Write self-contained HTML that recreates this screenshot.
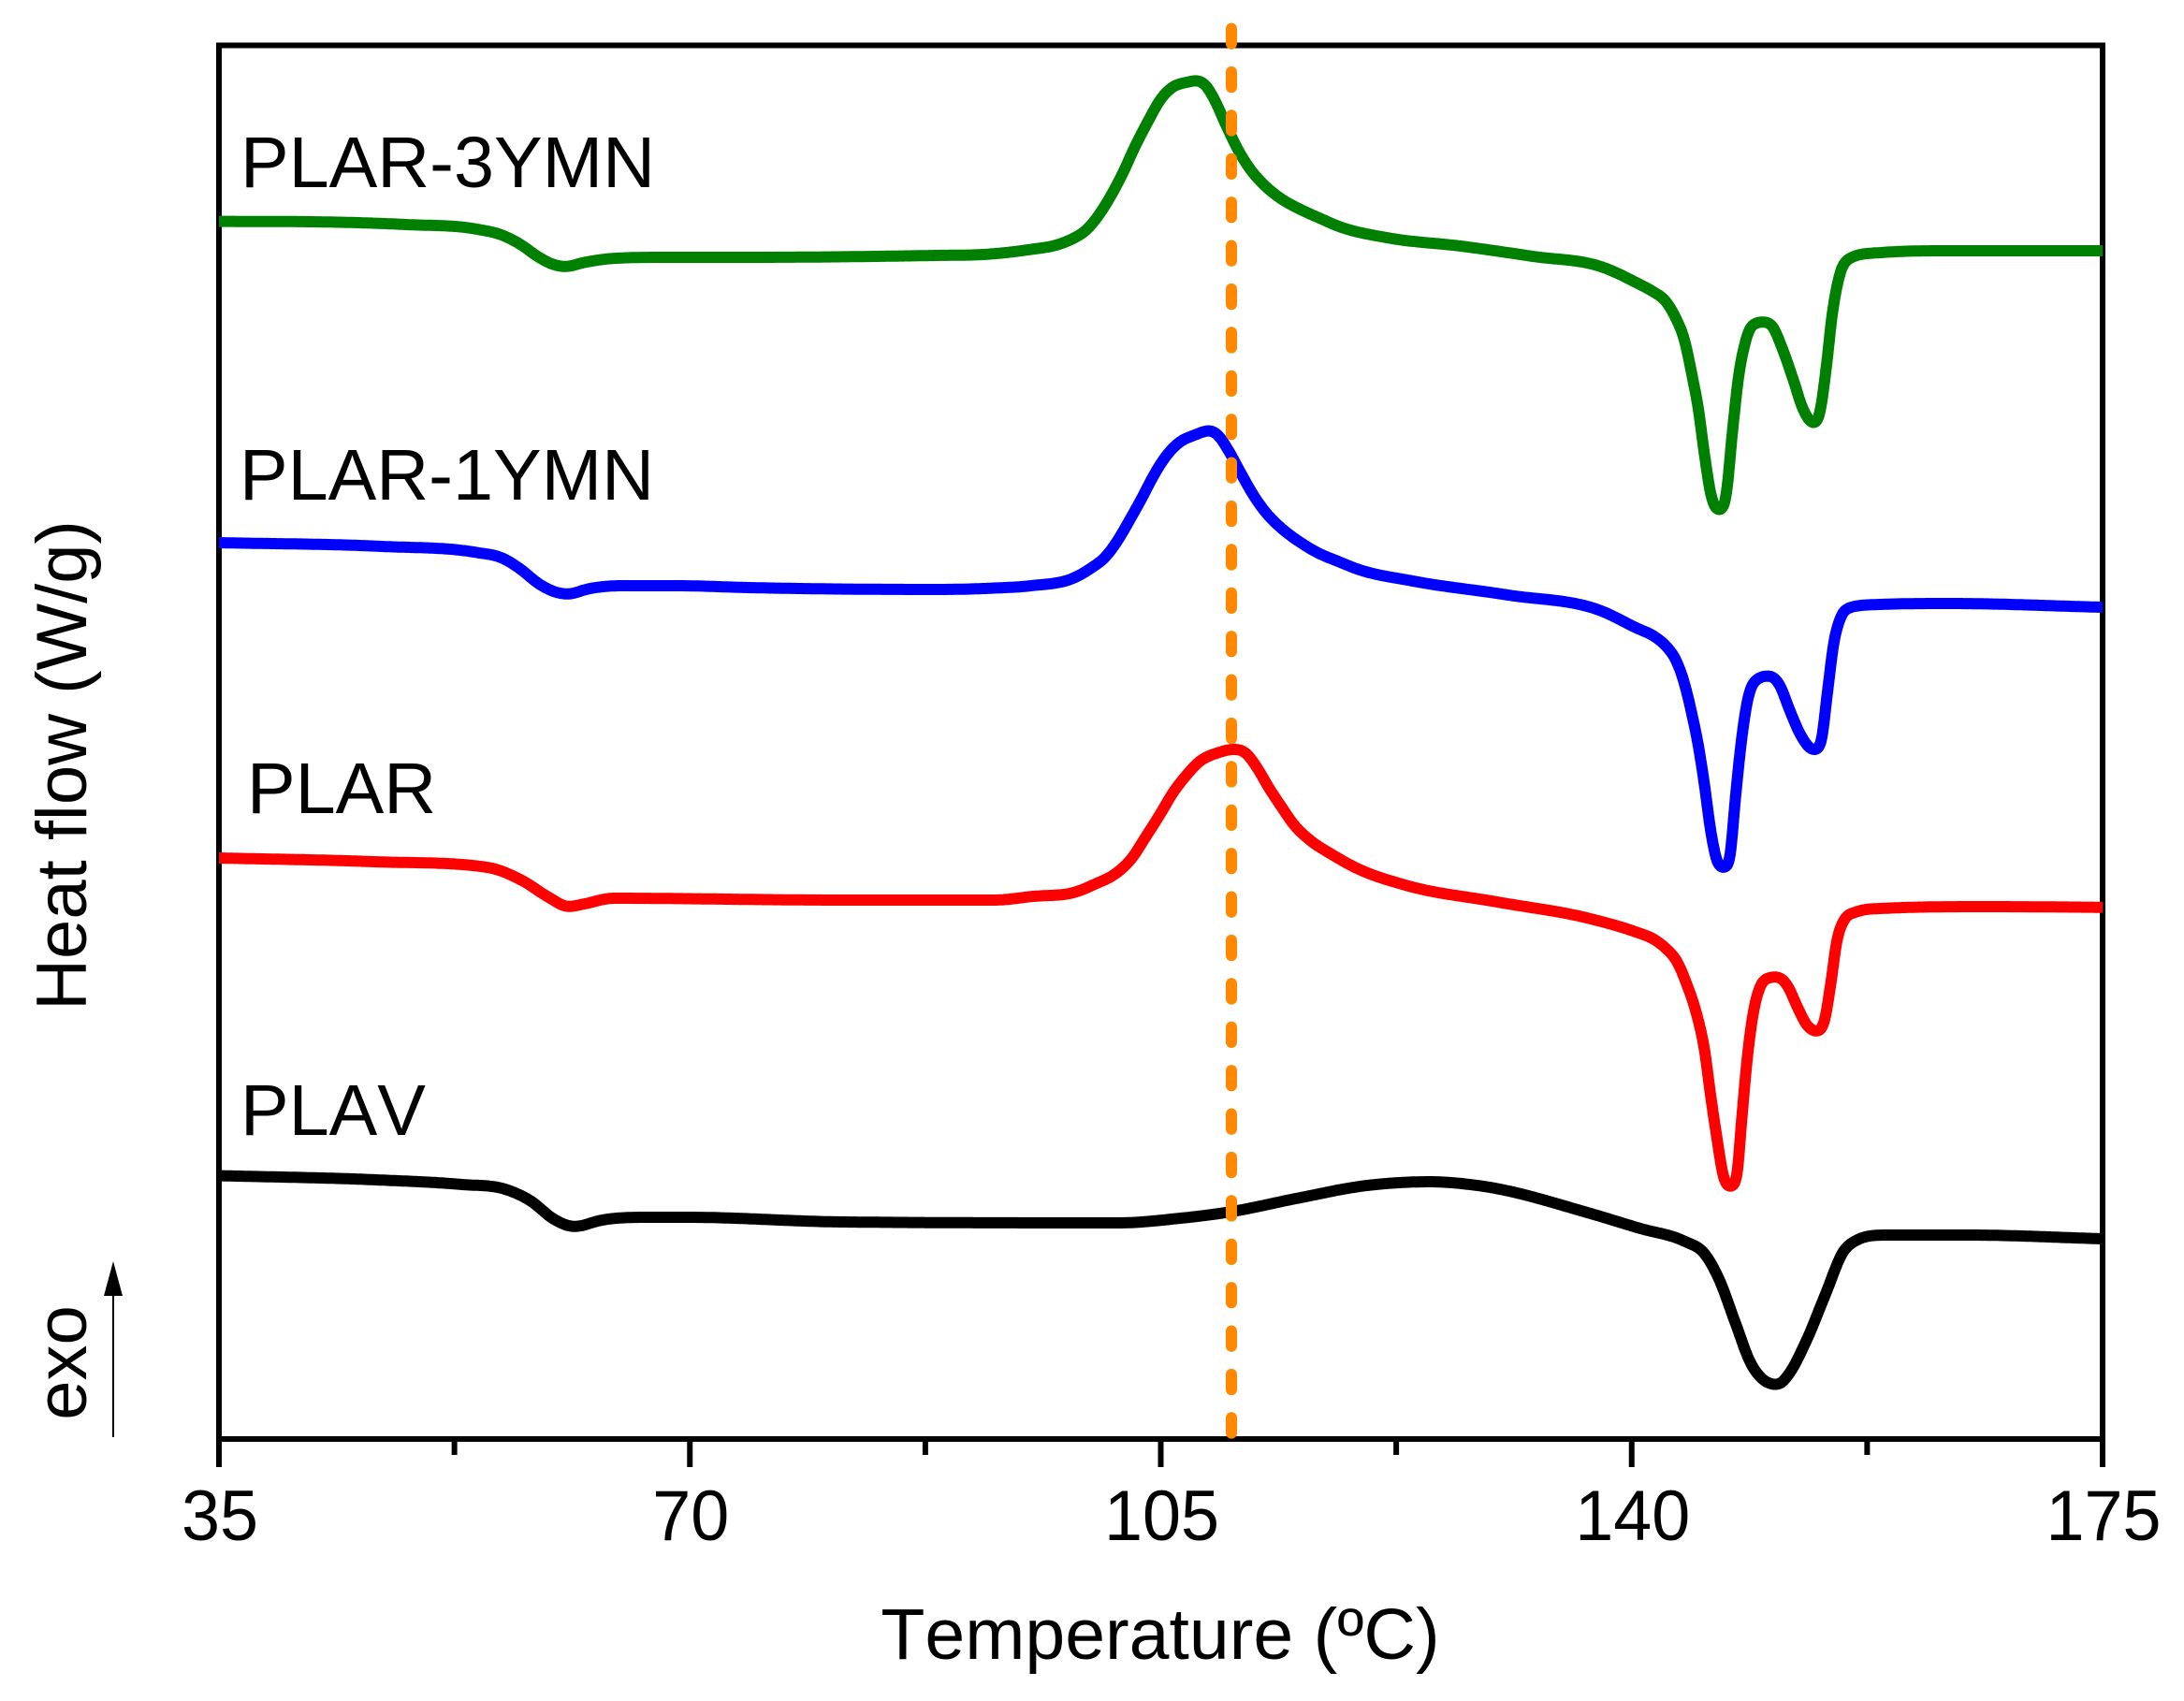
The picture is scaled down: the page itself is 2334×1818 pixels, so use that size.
<!DOCTYPE html>
<html lang="en">
<head>
<meta charset="utf-8">
<title>DSC heat flow curves</title>
<style>
html,body{margin:0;padding:0;background:#fff;}
svg{display:block;}
text{font-family:"Liberation Sans",Arial,sans-serif;fill:#000;}
.nk{font-kerning:none;}
</style>
</head>
<body>
<svg id="chart" xmlns="http://www.w3.org/2000/svg" width="2334" height="1818" viewBox="0 0 2334 1818">
  <rect x="0" y="0" width="2334" height="1818" fill="#fff"/>
  <g id="ticks"></g>
  <g id="tick-labels"></g>
  <rect id="frame" fill="none" stroke="#000" stroke-width="6"/>
  <g id="series"></g>
  <line id="marker" stroke="#ff8800" stroke-width="12" stroke-linecap="round" stroke-dasharray="16.3 30.1"/>
  <text class="nk" x="257" y="200" font-size="77.4">PLAR-3YMN</text>
  <text class="nk" x="256" y="534" font-size="77.4">PLAR-1YMN</text>
  <text class="nk" x="264" y="869" font-size="77.4">PLAR</text>
  <text class="nk" x="257" y="1213" font-size="77.4">PLAV</text>
  <text class="nk" x="1240" y="1773" font-size="77" text-anchor="middle">Temperature (ºC)</text>
  <text transform="translate(92 818) rotate(-90)" font-size="76" text-anchor="middle">Heat flow (W/g)</text>
  <text transform="translate(92 1456.5) rotate(-90)" font-size="76" text-anchor="middle">exo</text>
  <line x1="121" y1="1536" x2="121" y2="1380" stroke="#000" stroke-width="2"/>
  <polygon points="121,1348 111,1385 131,1385" fill="#000"/>
</svg>
<script>
const majorTicks = [35, 70, 105, 140, 175];
const minorTicks = [52.5, 87.5, 122.5, 157.5];
const markerTemperature = 110.25;

const plavTemperature = [35,46.68,53.08,56.28,58.23,59.83,61.43,63.44,66.64,69.84,81.32,101.9,106.15,110.25,115.05,120.33,124.99,128.54,136.95,140.64,143.98,145.37,146.52,147.66,148.92,149.61,150.86,151.56,152.98,154.41,155.8,156.64,158.86,165.05,175];
const plavFlow = [28.15,27.7,27.2,26.7,25.4,23.55,22.7,23.4,23.7,23.7,23.2,23.1,23.55,24.3,25.7,27.1,27.5,27.1,24.1,22.5,21.1,19.9,17,12.6,7.9,6.54,5.8,6.7,10.5,15.5,20.2,21.2,21.8,21.8,21.4];

const plarTemperature = [35,46.54,54.96,57.53,59.62,60.94,62.19,64.28,81.32,92.65,95.5,98.7,100.09,101.69,102.88,103.78,104.96,105.87,106.82,107.95,109.14,110.53,111.34,112.13,113.08,114,114.91,116.09,117.69,119.57,123.18,130,136.95,140.43,141.59,142.52,143.33,144.12,144.81,145.42,145.86,146.34,146.81,147.32,147.8,148.2,148.55,148.99,149.59,150.17,150.86,151.56,152.37,153.07,153.83,154.34,154.81,155.24,155.85,156.64,158.51,166.51,175];
const plarFlow = [62.1,61.7,61.1,59.7,57.8,56.9,57.2,57.8,57.6,57.6,58,58.47,59.3,60.47,62.13,64.13,66.8,69,70.8,72.5,73.3,73.73,73.3,71.8,69.5,67.5,65.63,64,62.5,61,59.2,57.4,55.6,54.13,53.47,52.47,51.13,48.5,45.5,41.5,36.8,32.13,28.13,26.9,28.13,34.5,40.13,45.13,48.5,49.3,49.4,48.5,46,44.13,43.53,44.8,48.8,53.13,55.63,56.3,56.7,56.9,56.83];

const plar1Temperature = [35,47.1,54.19,56,57.39,58.78,60.04,60.94,62.4,64.84,69.08,74.36,88.27,92.51,95.37,98.7,99.87,100.79,101.69,102.65,103.57,104.48,105.43,106.35,107.52,108.65,109.25,110.04,110.99,111.92,112.82,114,115.4,116.79,118.18,119.57,123.74,130.83,137.93,140.43,141.59,142.52,143.33,143.91,144.47,144.95,145.42,145.86,146.34,146.88,147.32,147.73,148.2,148.64,149.24,150.29,150.98,151.77,152.6,153.58,154.11,154.55,155.03,155.59,156.29,158.51,163.66,175];
const plar1Flow = [95.8,95.4,94.74,94.2,93,91.4,90.5,90.3,90.85,91.2,91.2,91,90.8,90.94,91.2,92.13,93.13,94.13,95.8,98.13,100.5,103,105.13,106.5,107.3,107.8,107.3,105.63,103.13,100.8,99,97.3,95.8,94.63,93.8,93,91.7,90.2,88.4,86.63,85.87,84.8,83.13,80.8,77.5,74.13,69.8,65.13,61.8,61,62.5,68.8,75.13,79.13,81.13,81.57,80.63,77.8,75.13,73.6,74.8,79.8,85.13,88,88.9,89.2,89.3,88.9];

const plar3Temperature = [35,41.82,48.91,54.19,56,57.39,58.78,59.9,60.8,61.98,64.49,68.38,74.36,88.27,91.82,95.37,97.31,98.47,99.4,100.3,101.26,102.18,103.08,104.04,104.96,105.87,106.82,107.75,108.3,109,109.83,110.74,111.69,112.61,113.77,115.4,116.79,118.18,122,127.29,132.64,137.93,140.43,141.59,142.52,143.21,143.91,144.47,144.95,145.42,145.86,146.53,147.04,147.5,147.94,148.43,148.99,149.82,150.38,151.21,152.03,152.72,153.58,153.99,154.46,154.9,155.5,156.2,158.51,163.66,175];
const plar3Flow = [130.14,130.1,129.8,129.3,128.7,127.7,126.3,125.5,125.3,125.7,126.2,126.3,126.3,126.5,126.6,127.15,127.63,128.3,129.13,130.63,132.8,135.3,138.13,140.8,143.13,144.5,144.97,145.2,144.73,143.13,140.5,137.8,135.63,134.13,132.73,131.4,130.5,129.63,128.35,127.5,126.4,125.2,123.53,122.63,121.63,120,117.5,113.8,110.13,105.13,101.13,99.2,101.13,107.8,113.5,117.13,119.1,119.4,119.1,116.5,113.13,110.13,108.5,109.8,114.5,120.13,124.63,126.2,126.8,127,127];

const SVG_NS = 'http://www.w3.org/2000/svg';
const plot = { left: 234, right: 2247, top: 48.5, bottom: 1538 };
const xDomain = [35, 175];
const yDomain = [0, 148.95];

function xScale(t) {
  return plot.left + (t - xDomain[0]) / (xDomain[1] - xDomain[0]) * (plot.right - plot.left);
}
function yScale(v) {
  return plot.bottom - (v - yDomain[0]) / (yDomain[1] - yDomain[0]) * (plot.bottom - plot.top);
}

function densePoints(xs, ys) {
  const n = Math.min(xs.length, ys.length);
  const m = new Array(n).fill(0);
  for (let i = 1; i < n - 1; i++) {
    const h0 = xs[i] - xs[i - 1], h1 = xs[i + 1] - xs[i];
    const s0 = (ys[i] - ys[i - 1]) / h0, s1 = (ys[i + 1] - ys[i]) / h1;
    if (s0 * s1 <= 0) { m[i] = 0; continue; }
    const p = (s0 * h1 + s1 * h0) / (h0 + h1);
    m[i] = Math.sign(p) * Math.min(Math.abs(p), 3 * Math.min(Math.abs(s0), Math.abs(s1)));
  }
  m[0] = (ys[1] - ys[0]) / (xs[1] - xs[0]);
  m[n - 1] = (ys[n - 1] - ys[n - 2]) / (xs[n - 1] - xs[n - 2]);
  const pts = [];
  for (let i = 0; i < n - 1; i++) {
    const h = xs[i + 1] - xs[i];
    const steps = 24;
    for (let k = 0; k < steps; k++) {
      const u = k / steps;
      const h00 = (1 + 2 * u) * (1 - u) * (1 - u);
      const h10 = u * (1 - u) * (1 - u);
      const h01 = u * u * (3 - 2 * u);
      const h11 = u * u * (u - 1);
      pts.push([xs[i] + u * h, h00 * ys[i] + h10 * h * m[i] + h01 * ys[i + 1] + h11 * h * m[i + 1]]);
    }
  }
  pts.push([xs[n - 1], ys[n - 1]]);
  return pts;
}

function resample(pts, step) {
  const out = [pts[0]];
  let carry = 0;
  for (let i = 1; i < pts.length; i++) {
    const a = pts[i - 1], b = pts[i];
    const len = Math.hypot(b[0] - a[0], b[1] - a[1]);
    if (len === 0) continue;
    let d = step - carry;
    while (d <= len) {
      const u = d / len;
      out.push([a[0] + (b[0] - a[0]) * u, a[1] + (b[1] - a[1]) * u]);
      d += step;
    }
    carry = (carry + len) % step;
  }
  out.push(pts[pts.length - 1]);
  return out;
}

function smooth(pts, sigma) {
  const R = Math.ceil(sigma * 3);
  const out = [];
  for (let i = 0; i < pts.length; i++) {
    const r = Math.min(R, i, pts.length - 1 - i);
    let sx = 0, sy = 0, sw = 0;
    for (let j = -r; j <= r; j++) {
      const w = Math.exp(-j * j / (2 * sigma * sigma));
      sx += pts[i + j][0] * w;
      sy += pts[i + j][1] * w;
      sw += w;
    }
    out.push([sx / sw, sy / sw]);
  }
  return out;
}

function curvePath(xs, ys) {
  const pts = smooth(resample(densePoints(xs, ys), 2), 1.8);
  return 'M' + pts.map(function (p) { return p[0].toFixed(1) + ' ' + p[1].toFixed(1); }).join(' L');
}

const frame = document.getElementById('frame');
frame.setAttribute('x', plot.left);
frame.setAttribute('y', plot.top);
frame.setAttribute('width', plot.right - plot.left);
frame.setAttribute('height', plot.bottom - plot.top);

const tickGroup = document.getElementById('ticks');
const labelGroup = document.getElementById('tick-labels');

majorTicks.forEach(function (t) {
  const tick = document.createElementNS(SVG_NS, 'line');
  
  
  tick.setAttribute('x1', xScale(t));
  tick.setAttribute('x2', xScale(t));
  tick.setAttribute('y1', plot.bottom);
  tick.setAttribute('y2', 1568);
  tick.setAttribute('stroke', '#000');
  tick.setAttribute('stroke-width', '6');
  tickGroup.appendChild(tick);

  const label = document.createElementNS(SVG_NS, 'text');
  
  
  label.setAttribute('transform', 'translate(' + (xScale(t) + 1) + ' 1646) scale(0.97 1)');
  label.setAttribute('font-size', '76');
  label.setAttribute('text-anchor', 'middle');
  label.textContent = String(t);
  labelGroup.appendChild(label);
});

minorTicks.forEach(function (t) {
  const tick = document.createElementNS(SVG_NS, 'line');
  
  
  tick.setAttribute('x1', xScale(t));
  tick.setAttribute('x2', xScale(t));
  tick.setAttribute('y1', plot.bottom);
  tick.setAttribute('y2', 1555);
  tick.setAttribute('stroke', '#000');
  tick.setAttribute('stroke-width', '6');
  tickGroup.appendChild(tick);
});

const seriesList = [
  { id: 'plav', color: '#000000', temps: plavTemperature, flows: plavFlow },
  { id: 'plar', color: '#ff0000', temps: plarTemperature, flows: plarFlow },
  { id: 'plar-1ymn', color: '#0000ff', temps: plar1Temperature, flows: plar1Flow },
  { id: 'plar-3ymn', color: '#008000', temps: plar3Temperature, flows: plar3Flow }
];

const seriesGroup = document.getElementById('series');
seriesList.forEach(function (s) {
  const path = document.createElementNS(SVG_NS, 'path');
  
  
  path.setAttribute('d', curvePath(s.temps.map(xScale), s.flows.map(yScale)));
  path.setAttribute('fill', 'none');
  path.setAttribute('stroke', s.color);
  path.setAttribute('stroke-width', '12');
  path.setAttribute('stroke-linejoin', 'round');
  seriesGroup.appendChild(path);
});

const marker = document.getElementById('marker');
marker.setAttribute('x1', xScale(markerTemperature));
marker.setAttribute('x2', xScale(markerTemperature));
marker.setAttribute('y1', 30.5);
marker.setAttribute('y2', plot.bottom - 5.5);
</script>
</body>
</html>
